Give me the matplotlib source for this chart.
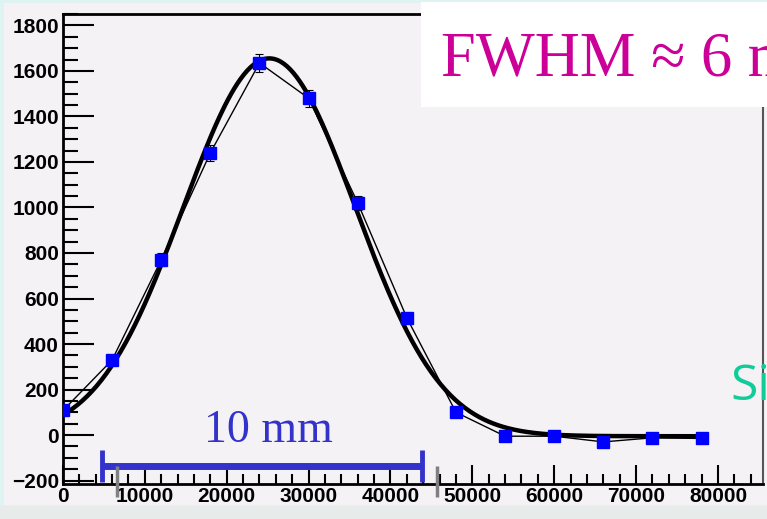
import numpy as np
import matplotlib.pyplot as plt
from matplotlib.patches import Rectangle
from matplotlib.ticker import MultipleLocator

pos = [0, 6000, 12000, 18000, 24000, 30000, 36000, 42000, 48000, 54000, 60000, 66000, 72000, 78000]
counts = [108, 330, 770, 1240, 1635, 1480, 1020, 515, 100, -5, -5, -30, -12, -15]
errs = [10, 18, 28, 35, 40, 38, 32, 23, 10, 4, 4, 5, 4, 4]

# gaussian fit parameters (amplitude, mean, sigma, offset)
fit_amp = 1660
fit_mean = 25200
fit_sigma = 10500
fit_off = -5

W, H = 767, 519
fig = plt.figure(figsize=(W / 100, H / 100), dpi=100)
fig.patch.set_facecolor('#dff3f3')
# canvas panel
fig.patches.append(Rectangle((4 / W, 1 - 505 / H), 1, 502 / H, transform=fig.transFigure,
                             facecolor='#f5f2f6', edgecolor='none', zorder=-2))
fig.patches.append(Rectangle((0, 0), 1, 1 - 506 / H, transform=fig.transFigure,
                             facecolor='#e7eceb', edgecolor='none', zorder=-2))

ax = fig.add_axes([63 / W, 1 - 484 / H, 700 / W, 470 / H])
ax.set_zorder(1)
ax.set_facecolor('#f5f2f6')

xf = np.linspace(0, 78000, 400)
yf = fit_off + fit_amp * np.exp(-(xf - fit_mean) ** 2 / (2 * fit_sigma ** 2))
ax.plot(xf, yf, color='black', lw=3.2, zorder=3)
ax.plot(pos, counts, color='black', lw=1.0, zorder=4)
ax.errorbar(pos, counts, yerr=errs, fmt='none', ecolor='black', elinewidth=0.8,
            capsize=3, capthick=0.8, zorder=4)
ax.plot(pos, counts, 's', color='#0000ff', ms=8.5, mec='#0000ff', zorder=5)

ax.set_xlim(0, 85500)
ax.set_ylim(-215, 1850)
ax.xaxis.set_major_locator(MultipleLocator(10000))
ax.xaxis.set_minor_locator(MultipleLocator(2000))
ax.yaxis.set_major_locator(MultipleLocator(200))
ax.yaxis.set_minor_locator(MultipleLocator(50))
ax.tick_params(axis='both', which='both', direction='in', top=False, right=False,
               color='black', width=1.5)
ax.tick_params(axis='y', which='major', length=22, pad=3)
ax.tick_params(axis='y', which='minor', length=11)
ax.tick_params(axis='x', which='major', length=14, pad=2)
ax.tick_params(axis='x', which='minor', length=7)
for lab in ax.get_xticklabels() + ax.get_yticklabels():
    lab.set_fontfamily('Liberation Sans')
    lab.set_fontweight('bold')
    lab.set_fontsize(15)
for s in ['left', 'bottom', 'top']:
    ax.spines[s].set_linewidth(2)
    ax.spines[s].set_color('black')
ax.spines['right'].set_color('#555555')
ax.spines['right'].set_linewidth(1.5)

# scale bar and annotations
fig.add_artist(plt.Line2D([101 / W, 423 / W], [1 - 466 / H, 1 - 466 / H],
                          color='#3333cc', lw=5, solid_capstyle='butt', zorder=6))
for xb in (102, 422):
    fig.add_artist(plt.Line2D([xb / W, xb / W], [1 - 450 / H, 1 - 482 / H],
                              color='#3333cc', lw=3.5, solid_capstyle='butt', zorder=6))
for xg in (117, 437):
    fig.add_artist(plt.Line2D([xg / W, xg / W], [1 - 466 / H, 1 - 497 / H],
                              color='#808080', lw=2.5, solid_capstyle='butt', zorder=6))
fig.text(268 / W, 1 - 442 / H, '10 mm', color='#3333cc', family='Liberation Serif',
         fontsize=33, ha='center', va='baseline', zorder=6)

fig.patches.append(Rectangle((421 / W, 1 - 107 / H), 1, 105 / H, transform=fig.transFigure,
                             facecolor='white', edgecolor='none', zorder=5))
fig.text(441 / W, 1 - 75 / H, 'FWHM ≈ 6 mm', color='#cc0099', family='Liberation Serif',
         fontsize=45, ha='left', va='baseline', zorder=6)
fig.text(730 / W, 1 - 400 / H, 'Si', color='#11cc99', family='Open Sans',
         fontsize=36, ha='left', va='baseline', zorder=6)

fig.savefig('out.png', dpi=100, facecolor=fig.get_facecolor())
